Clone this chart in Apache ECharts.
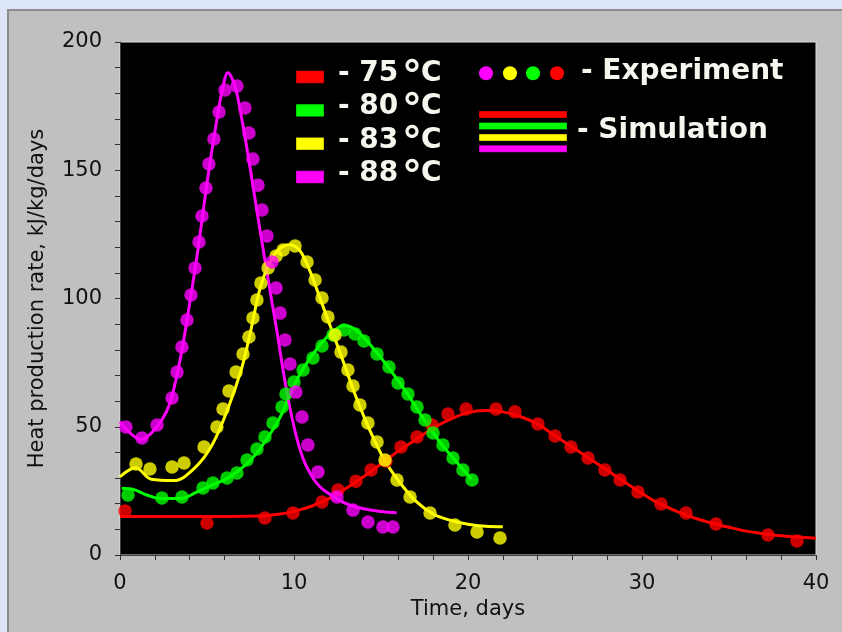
<!DOCTYPE html>
<html><head><meta charset="utf-8">
<script src="https://cdn.jsdelivr.net/npm/echarts@6/dist/echarts.min.js"></script>
<style>
html,body{margin:0;padding:0;background:#dde6f8;overflow:hidden;}
#panel{position:absolute;left:7px;top:9px;width:900px;height:700px;background:#c0c0c0;border-top:2px solid #8c8c8c;border-left:2px solid #8c8c8c;}
#c{position:absolute;left:0;top:0;width:842px;height:632px;}
</style>
</head><body><div id="panel"></div><div id="c"></div>
<script>
// Legend labels and colours
const tempLabels = ['- 75', '- 80', '- 83', '- 88'];
const degreeSign = '°';
const unitLetter = 'C';
const tempColors = ['#ff0000', '#00ff00', '#ffff00', '#ff00ff'];
const xTicks = [0, 10, 20, 30, 40];
const yTicks = [0, 50, 100, 150, 200];

// Experiment points [time (days), heat rate]
const exp75 = [[0.29,17.2],[5.0,12.5],[8.33,14.4],[9.94,16.4],[11.61,20.7],[12.53,25.3],[13.56,28.8],[14.43,33.1],[15.29,36.6],[16.15,42.1],[17.07,46.0],[17.93,50.7],[18.85,55.0],[19.89,56.9],[21.61,56.9],[22.7,55.8],[24.02,51.1],[25.0,46.4],[25.92,42.1],[26.9,37.8],[27.87,33.1],[28.74,29.2],[29.77,24.6],[31.09,19.9],[32.53,16.4],[34.25,12.1],[37.24,7.8],[38.91,5.5]];
const exp80 = [[0.46,23.4],[2.41,22.2],[3.56,22.6],[4.77,26.1],[5.34,28.1],[6.15,30.0],[6.72,32.0],[7.30,37.0],[7.87,41.3],[8.33,46.0],[8.79,51.5],[9.31,57.7],[9.54,62.8],[10.0,67.4],[10.52,72.1],[11.09,76.8],[11.61,81.5],[12.24,85.8],[12.87,87.7],[13.51,86.2],[14.02,83.4],[14.77,78.4],[15.46,73.3],[15.98,67.1],[16.55,62.8],[17.07,57.7],[17.53,52.6],[17.99,47.6],[18.56,42.9],[19.14,37.8],[19.71,33.1],[20.23,29.2]];
const exp83 = [[0.92,35.5],[1.72,33.5],[2.99,34.3],[3.68,35.9],[4.83,42.1],[5.57,49.9],[5.92,56.9],[6.26,63.9],[6.67,71.3],[7.07,78.4],[7.41,85.0],[7.64,92.4],[7.87,99.4],[8.10,106.0],[8.51,111.9],[8.97,116.6],[9.37,118.9],[10.06,120.5],[10.75,114.2],[11.21,107.2],[11.61,100.2],[11.95,92.8],[12.36,85.8],[12.70,79.1],[13.10,72.1],[13.39,65.9],[13.79,58.5],[14.25,51.5],[14.77,44.1],[15.23,37.0],[15.92,29.2],[16.67,22.6],[17.82,16.4],[19.25,11.7],[20.52,9.0],[21.84,6.6]];
const exp88 = [[0.34,49.9],[1.26,45.6],[2.13,50.7],[2.99,61.2],[3.28,71.3],[3.56,81.1],[3.85,91.6],[4.08,101.4],[4.31,111.9],[4.54,122.0],[4.71,132.2],[4.94,143.1],[5.11,152.4],[5.40,162.2],[5.69,172.7],[6.03,181.3],[6.72,182.8],[7.18,174.3],[7.41,164.5],[7.64,154.4],[7.93,144.2],[8.16,134.5],[8.45,124.4],[8.74,114.2],[8.97,104.1],[9.20,94.3],[9.48,83.8],[9.77,74.5],[10.11,63.5],[10.46,53.8],[10.80,42.9],[11.38,32.4],[12.47,22.6],[13.39,17.5],[14.25,12.9],[15.11,10.9],[15.69,10.9]];

// Simulation curves [time (days), heat rate]
const sim75 = [[0,15],[4,15],[8,15.2],[9,15.8],[10,17],[11,19],[12,22],[13,26],[14,30.5],[15,35.5],[16,40.5],[17,45],[18,49.5],[19,53],[20,55.5],[21,56.3],[22,55.8],[23,54],[24,51],[25,46.5],[26,42],[27,37.5],[28,33],[29,28.5],[30,24],[31,20],[32,17],[33,14.5],[34,12.5],[35,10.8],[36,9.3],[37,8.3],[38,7.5],[39,7],[40,6.5]];
const sim80 = [[0.1,26],[0.8,25.5],[1.5,23.5],[2.3,22],[3.5,22],[4.4,24.5],[5.2,27],[6.2,30],[7.2,35],[8,41],[8.8,49],[9.3,55],[9.8,63],[10.3,70],[11,77.5],[11.7,83.5],[12.3,87.5],[12.9,89.5],[13.6,87.5],[14.5,81],[15.5,72.5],[16.5,63],[17.5,52.5],[18.5,43],[19.5,35],[20.2,29.5]];
const sim83 = [[0,30.5],[0.9,34],[1.8,29.5],[3.1,29],[4.3,34],[5.3,43],[6.2,57],[7,73],[7.5,87],[8.05,104],[8.6,114],[9.1,119],[9.7,121],[10.3,119],[10.9,111],[11.5,100],[12.1,89],[12.8,76],[13.6,61],[14.4,48],[15.2,37],[16,29],[17,21],[18,16],[19,13.5],[20,12],[21,11.2],[22,11]];
const sim88 = [[0,52],[0.5,48],[1.2,45],[2,49],[2.8,58],[3.45,76],[4,98],[4.5,120],[5,145],[5.5,167],[5.9,182],[6.2,188],[6.6,183],[7,170],[7.5,150],[8,128.6],[8.5,108],[9,88],[9.5,67],[10,50],[10.5,38],[11,31],[11.5,26.5],[12,24],[13,20],[14,18],[15,17],[15.9,16.5]];

const expSets = [exp75, exp80, exp83, exp88];
const simSets = [sim75, sim80, sim83, sim88];

const tickFont = '"DejaVu Sans", sans-serif';
const legFont = 'bold 28px "DejaVu Sans", sans-serif';
const degFont = 'bold 40px "DejaVu Sans", sans-serif';
const legText = '#f6f6ee';

const series = [];
for (let i = 0; i < 4; i++) {
  series.push({
    type: 'line', data: simSets[i], showSymbol: false, smooth: 0.35,
    lineStyle: { color: tempColors[i], width: 3 }, z: 2, silent: true
  });
  series.push({
    type: 'scatter', data: expSets[i], symbol: 'circle', symbolSize: 13.5,
    itemStyle: { color: tempColors[i] }, z: 2, silent: true
  });
}

const graphic = [];
const rowBase = [83.3, 116.7, 150, 183.3];
for (let i = 0; i < 4; i++) {
  graphic.push({ type: 'rect', z: 100, shape: { x: 296, y: rowBase[i] - 12.6, width: 28, height: 12.6 },
    style: { fill: tempColors[i], stroke: 'rgba(0,0,0,0.35)', lineWidth: 1 } });
  graphic.push({ type: 'text', z: 100, style: { text: tempLabels[i], x: 338, y: rowBase[i] - 9.7,
    font: legFont, fill: legText, verticalAlign: 'middle', align: 'left' } });
  graphic.push({ type: 'text', z: 100, style: { text: degreeSign, x: 412, y: rowBase[i] + 8.7 - 13.8,
    font: degFont, fill: legText, verticalAlign: 'middle', align: 'center' } });
  graphic.push({ type: 'text', z: 100, style: { text: unitLetter, x: 421, y: rowBase[i] - 9.7,
    font: legFont, fill: legText, verticalAlign: 'middle', align: 'left' } });
}
const dotColors = ['#ff00ff', '#ffff00', '#00ff00', '#ff0000'];
const dotX = [486, 510, 533, 557];
for (let i = 0; i < 4; i++) {
  graphic.push({ type: 'circle', z: 100, shape: { cx: dotX[i], cy: 73.3, r: 7 }, style: { fill: dotColors[i] } });
}
graphic.push({ type: 'text', z: 100, style: { text: '- Experiment', x: 581, y: 81.7 - 9.7,
  font: legFont, fill: legText, verticalAlign: 'middle', align: 'left' } });
const barTop = [111, 122.5, 134, 145.3];
for (let i = 0; i < 4; i++) {
  graphic.push({ type: 'rect', z: 100, shape: { x: 479, y: barTop[i], width: 88, height: 7 },
    style: { fill: tempColors[i], stroke: 'rgba(0,0,0,0.35)', lineWidth: 1 } });
}
graphic.push({ type: 'text', z: 100, style: { text: '- Simulation', x: 577, y: 140 - 9.7,
  font: legFont, fill: legText, verticalAlign: 'middle', align: 'left' } });

const chart = echarts.init(document.getElementById('c'), null, { renderer: 'canvas' });
chart.setOption({
  animation: false,
  backgroundColor: 'transparent',
  grid: { left: 120, right: 26, top: 42, bottom: 77, show: true, backgroundColor: '#000', borderColor: '#e0e0e0', borderWidth: 1 },
  xAxis: {
    type: 'value', min: 0, max: 40, interval: 2,
    name: 'Time, days', nameLocation: 'middle', nameGap: 44,
    nameTextStyle: { fontFamily: tickFont, fontSize: 21, color: '#111' },
    axisLine: { show: true, lineStyle: { color: '#404040', width: 1 } },
    axisTick: { show: true, inside: false, length: 5, lineStyle: { color: '#303030' } },
    axisLabel: { fontFamily: tickFont, fontSize: 21, color: '#111', margin: 18,
      formatter: v => (xTicks.indexOf(v) >= 0 ? String(v) : '') },
    splitLine: { show: false }
  },
  yAxis: {
    type: 'value', min: 0, max: 200, interval: 10,
    name: 'Heat production rate, kJ/kg/days', nameLocation: 'middle', nameGap: 72,
    nameTextStyle: { fontFamily: tickFont, fontSize: 21, color: '#111' },
    axisLine: { show: true, lineStyle: { color: '#404040', width: 1 } },
    axisTick: { show: true, inside: false, length: 5, lineStyle: { color: '#303030' } },
    axisLabel: { fontFamily: tickFont, fontSize: 21, color: '#111', margin: 18,
      formatter: v => (yTicks.indexOf(v) >= 0 ? String(v) : '') },
    splitLine: { show: false }
  },
  graphic: graphic,
  series: series
});
</script>
</body></html>
